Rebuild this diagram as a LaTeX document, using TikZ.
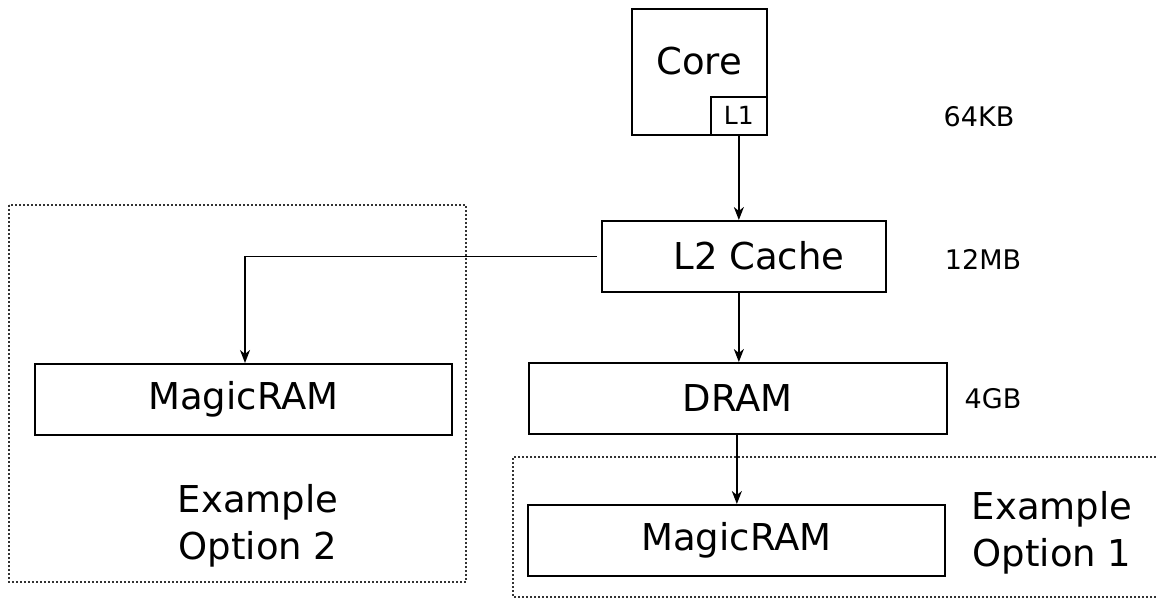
\documentclass[tikz,border=0pt]{standalone}
\usepackage{fontspec}
\setmainfont{DejaVu Sans}
\usetikzlibrary{arrows.meta}
\begin{document}
\begin{tikzpicture}[x=1pt,y=-1pt,
  box/.style={draw,line width=1.7pt,inner sep=0pt,anchor=north west},
  big/.style={font=\fontsize{37}{47}\selectfont,inner sep=0pt},
  small/.style={font=\fontsize{27}{32}\selectfont,inner sep=0pt},
  arr/.style={line width=1.6pt,-{Stealth[length=13pt,width=10pt,inset=4pt]}},
  dotbox/.style={line width=1.5pt,dash pattern=on 1.8pt off 2.2pt,black!80}]
\useasboundingbox (0,0) rectangle (1156,599);
% dotted groups
\draw[dotbox] (9,205) rectangle (466,582);
\draw[dotbox] (1160,457) -- (513,457) -- (513,597) -- (1160,597);
% boxes
\node[box,minimum width=135pt,minimum height=126pt] (core) at (631,8) {};
\node[big] (coretxt) at (699,61) {Core};
\node[box,minimum width=56pt,minimum height=38pt,
  font=\fontsize{25}{30}\selectfont] (l1) at (710,96) {L1};
\node[box,minimum width=284pt,minimum height=71pt] (l2) at (601,220) {};
\node[big] (l2txt) at (759,256) {L2 Cache};
\node[box,minimum width=418pt,minimum height=71pt,big] (dram) at (528,362) {DRAM};
\node[box,minimum width=417pt,minimum height=71pt,big] (mr2) at (34,363) {MagicRAM};
\node[box,minimum width=417pt,minimum height=71pt,big] (mr1) at (527,504) {MagicRAM};
% labels
\node[small] (k64) at (979,117) {64KB};
\node[small] (m12) at (983,259) {12MB};
\node[small] (g4) at (993,399) {4GB};
\node[big,align=center] (opt2) at (258,526) {Example\\Option 2};
\node[big,align=center] (opt1) at (1052,533) {Example\\Option 1};
% connectors
\draw[arr] (l1.south) -- (l1.south |- l2.north);
\draw[arr] ([xshift=-4pt]l2.west) -| (245,363) coordinate (mr2top);
\draw[arr] (l2.south -| l1.south) -- (l1.south |- dram.north);
\draw[arr] ([xshift=-1pt]dram.south) -- ([xshift=-1pt]dram.south |- mr1.north);
\end{tikzpicture}
\end{document}
